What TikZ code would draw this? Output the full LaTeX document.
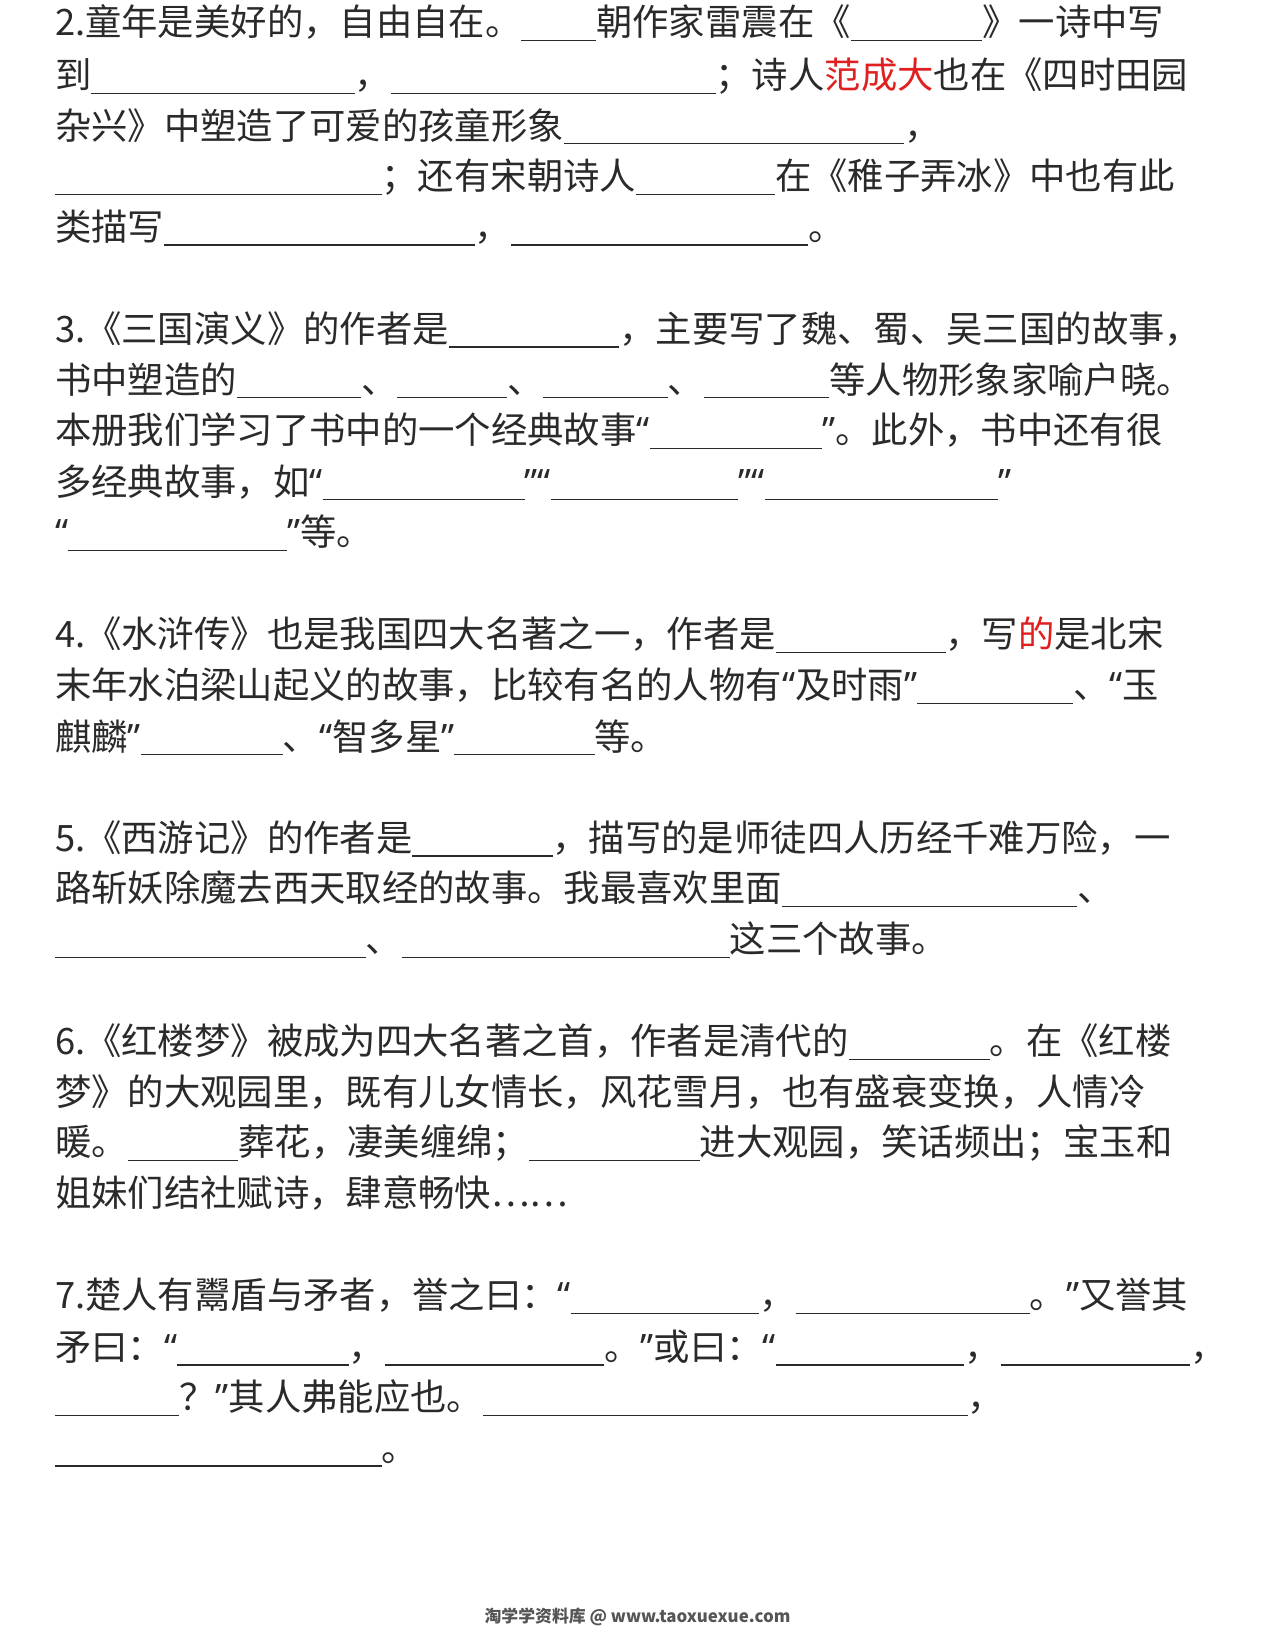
\documentclass[tikz,border=0pt]{standalone}
\usepackage{fontspec}
\setmainfont{Noto Sans CJK SC}
\newfontfamily\latq{Noto Sans}
\definecolor{txt}{HTML}{2A2A2A}
\definecolor{redt}{HTML}{E02020}
\newcommand{\bl}[1]{\rule[-5pt]{#1pt}{1.2pt}}
\newcommand{\rd}[1]{\textcolor{redt}{#1}}
\newcommand{\ql}{{\latq “}}
\newcommand{\qr}{{\latq ”}}
\begin{document}
\begin{tikzpicture}[x=1pt,y=-1pt,ln/.style={anchor=base west,inner sep=0pt,text=txt,font=\fontsize{34.5}{40}\selectfont}]
\useasboundingbox[fill=white] (0,0) rectangle (1210,1566);
\def\L#1#2#3{\node[ln] (#1) at (52,#2+12) {#3};}
\L{a1}{22}{2.童年是美好的，自由自在。\bl{71}朝作家雷震在《\bl{125}》一诗中写}
\L{a2}{72}{到\bl{250}，\bl{308}；诗人\rd{范成大}也在《四时田园}
\L{a3}{120}{杂兴》中塑造了可爱的孩童形象\bl{323}，}
\L{a4}{168}{\bl{310}；还有宋朝诗人\bl{132}在《稚子弄冰》中也有此}
\L{a5}{216}{类描写\bl{295}，\bl{282}。}
\L{b1}{313}{3.《三国演义》的作者是\bl{162}，主要写了魏、蜀、吴三国的故事，}
\L{b2}{361}{书中塑造的\bl{118}、\bl{104}、\bl{118}、\bl{119}等人物形象家喻户晓。}
\L{b3}{409}{本册我们学习了书中的一个经典故事\ql\bl{164}\qr。此外，书中还有很}
\L{b4}{458}{多经典故事，如\ql\bl{192}\qr\ql\bl{178}\qr\ql\bl{222}\qr}
\L{b5}{506}{\ql\bl{208}\qr 等。}
\L{c1}{603}{4.《水浒传》也是我国四大名著之一，作者是\bl{161}，写\rd{的}是北宋}
\L{c2}{651}{末年水泊梁山起义的故事，比较有名的人物有\ql 及时雨\qr\bl{148}、\ql 玉}
\L{c3}{700}{麒麟\qr\bl{135}、\ql 智多星\qr\bl{133}等。}
\L{d1}{796}{5.《西游记》的作者是\bl{133}，描写的是师徒四人历经千难万险，一}
\L{d2}{844}{路斩妖除魔去西天取经的故事。我最喜欢里面\bl{280}、}
\L{d3}{892}{\bl{295}、\bl{311}这三个故事。}
\L{e1}{989}{6.《红楼梦》被成为四大名著之首，作者是清代的\bl{134}。在《红楼}
\L{e2}{1037}{梦》的大观园里，既有儿女情长，风花雪月，也有盛衰变换，人情冷}
\L{e3}{1085}{暖。\bl{105}葬花，凄美缠绵；\bl{162}进大观园，笑话频出；宝玉和}
\L{e4}{1133}{姐妹们结社赋诗，肆意畅快……}
\L{f1}{1230}{7.楚人有鬻盾与矛者，誉之曰：\ql\bl{179}，\bl{222}。\qr 又誉其}
\L{f2}{1279}{矛曰：\ql\bl{163}，\bl{208}。\qr 或曰：\ql\bl{179}，\bl{180}，}
\L{f3}{1327}{\bl{118}？\qr 其人弗能应也。\bl{460}，}
\L{f4}{1375}{\bl{310}。}
\node[inner sep=0pt,text=txt!80,font=\bfseries\fontsize{16}{18}\selectfont] (foot) at (605,1535) {淘学学资料库 @ www.taoxuexue.com};
\end{tikzpicture}
\end{document}
